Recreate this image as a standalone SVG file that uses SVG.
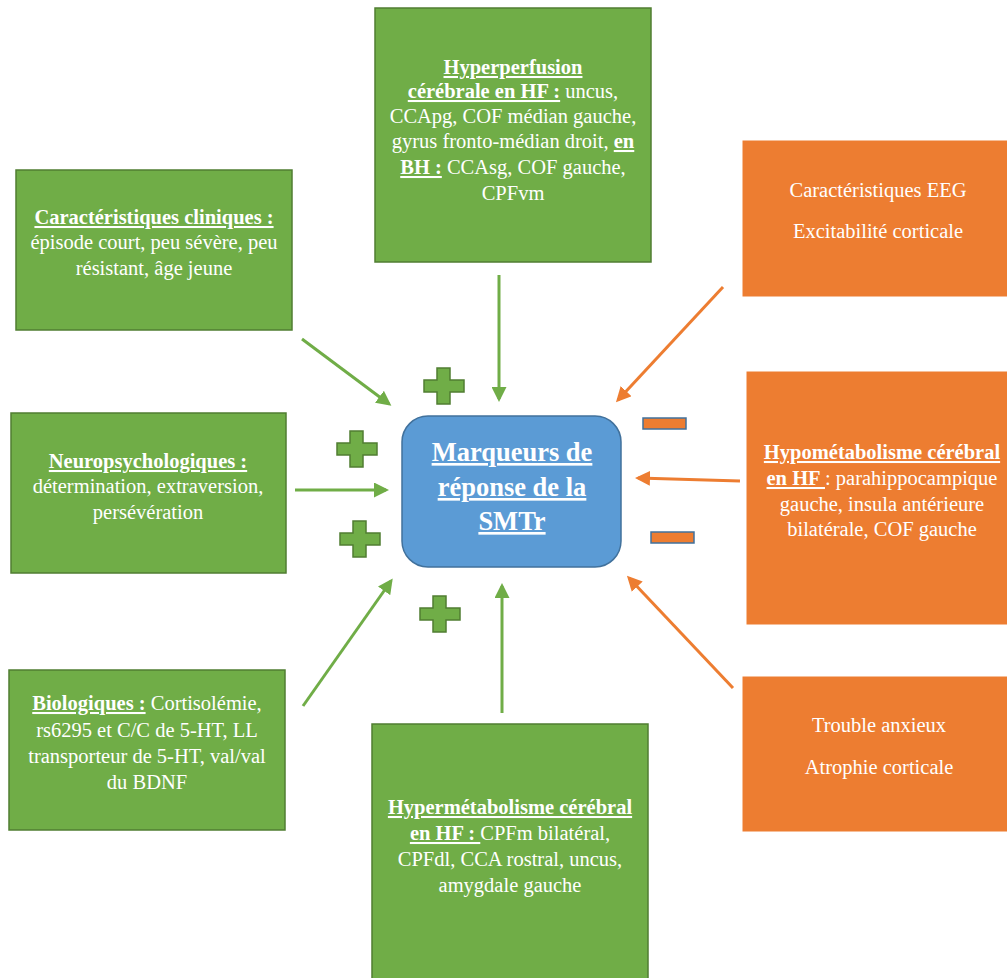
<svg xmlns="http://www.w3.org/2000/svg" width="1007" height="978" viewBox="0 0 1007 978">
<defs>
<style>
.g{fill:#70AD47;stroke:#507E32;stroke-width:1.5}
.o{fill:#ED7D31;stroke:#ffffff;stroke-width:1}
.t{font-family:"Liberation Serif","Times New Roman",serif;font-size:20.5px;fill:#ffffff;text-anchor:middle}
.b{font-weight:bold;text-decoration:underline}
.ga{stroke:#70AD47;stroke-width:3;fill:none;marker-end:url(#ag)}
.oa{stroke:#ED7D31;stroke-width:3;fill:none;marker-end:url(#ao)}
.plus{fill:#70AD47;stroke:#507E32;stroke-width:1.5}
.minus{fill:#ED7D31;stroke:#41719C;stroke-width:1.5}
</style>
<marker id="ag" markerWidth="5" markerHeight="5" refX="4" refY="2.5" orient="auto" markerUnits="strokeWidth"><path d="M0,0 L5,2.5 L0,5 Z" fill="#70AD47"/></marker>
<marker id="ao" markerWidth="5" markerHeight="5" refX="4" refY="2.5" orient="auto" markerUnits="strokeWidth"><path d="M0,0 L5,2.5 L0,5 Z" fill="#ED7D31"/></marker>
</defs>
<rect width="1007" height="978" fill="#ffffff"/>

<g id="connectors">
<line class="ga" x1="302" y1="339" x2="389" y2="404"/>
<line class="ga" x1="499" y1="275" x2="499" y2="399"/>
<line class="ga" x1="295" y1="490" x2="386" y2="490"/>
<line class="ga" x1="303" y1="706" x2="391" y2="581"/>
<line class="ga" x1="502" y1="713" x2="502" y2="586"/>
<line class="oa" x1="723" y1="287" x2="618" y2="400"/>
<line class="oa" x1="740" y1="481" x2="638" y2="478"/>
<line class="oa" x1="733" y1="688" x2="629" y2="578"/>
</g>

<g id="signs">
<path class="plus" d="M437,368 h13 v12 h14 v12 h-14 v12 h-13 v-12 h-13 v-12 h13 z"/>
<path class="plus" d="M350,431 h13 v12 h14 v12 h-14 v12 h-13 v-12 h-13 v-12 h13 z"/>
<path class="plus" d="M353,521 h13 v12 h14 v12 h-14 v12 h-13 v-12 h-13 v-12 h13 z"/>
<path class="plus" d="M433,596 h13 v12 h14 v12 h-14 v12 h-13 v-12 h-13 v-12 h13 z"/>
<rect class="minus" x="643" y="418" width="43" height="11"/>
<rect class="minus" x="651" y="532" width="43" height="11"/>
</g>

<g id="center">
<rect x="402" y="416" width="219" height="151" rx="26" ry="26" fill="#5B9BD5" stroke="#41719C" stroke-width="1.5"/>
<text class="t" style="font-size:26.5px" x="512" y="461"><tspan class="b">Marqueurs de</tspan></text>
<text class="t" style="font-size:26.5px" x="512" y="496"><tspan class="b">réponse de la</tspan></text>
<text class="t" style="font-size:26.5px" x="512" y="530"><tspan class="b">SMTr</tspan></text>
</g>

<g id="hyperperfusion">
<rect class="g" x="375" y="8" width="276" height="254"/>
<text class="t" x="513" y="74"><tspan class="b">Hyperperfusion</tspan></text>
<text class="t" x="513" y="98"><tspan class="b">cérébrale en HF :</tspan> uncus,</text>
<text class="t" x="513" y="123">CCApg, COF médian gauche,</text>
<text class="t" x="513" y="148">gyrus fronto-médian droit, <tspan class="b">en</tspan></text>
<text class="t" x="513" y="174"><tspan class="b">BH :</tspan> CCAsg, COF gauche,</text>
<text class="t" x="513" y="200">CPFvm</text>
</g>

<g id="clinique">
<rect class="g" x="16" y="170" width="276" height="160"/>
<text class="t" x="154" y="224"><tspan class="b">Caractéristiques cliniques :</tspan></text>
<text class="t" x="154" y="249">épisode court, peu sévère, peu</text>
<text class="t" x="154" y="275">résistant, âge jeune</text>
</g>

<g id="neuro">
<rect class="g" x="11" y="413" width="275" height="160"/>
<text class="t" x="148" y="468"><tspan class="b">Neuropsychologiques :</tspan></text>
<text class="t" x="148" y="493">détermination, extraversion,</text>
<text class="t" x="148" y="519">persévération</text>
</g>

<g id="bio">
<rect class="g" x="9" y="670" width="276" height="160"/>
<text class="t" x="147" y="710"><tspan class="b">Biologiques :</tspan> Cortisolémie,</text>
<text class="t" x="147" y="737">rs6295 et C/C de 5-HT, LL</text>
<text class="t" x="147" y="763">transporteur de 5-HT, val/val</text>
<text class="t" x="147" y="789">du BDNF</text>
</g>

<g id="hypermetabolisme">
<rect class="g" x="372" y="724" width="276" height="260"/>
<text class="t" x="510" y="814"><tspan class="b">Hypermétabolisme cérébral</tspan></text>
<text class="t" x="510" y="840"><tspan class="b">en HF : </tspan>CPFm bilatéral,</text>
<text class="t" x="510" y="866">CPFdl, CCA rostral, uncus,</text>
<text class="t" x="510" y="892">amygdale gauche</text>
</g>

<g id="eeg">
<rect class="o" x="742" y="140" width="270" height="157"/>
<text class="t" x="878" y="197">Caractéristiques EEG</text>
<text class="t" x="878" y="238">Excitabilité corticale</text>
</g>

<g id="hypometabolisme">
<rect class="o" x="746" y="371" width="266" height="254"/>
<text class="t" x="882" y="459"><tspan class="b">Hypométabolisme cérébral</tspan></text>
<text class="t" x="882" y="485"><tspan class="b">en HF </tspan>: parahippocampique</text>
<text class="t" x="882" y="511">gauche, insula antérieure</text>
<text class="t" x="882" y="536">bilatérale, COF gauche</text>
</g>

<g id="trouble">
<rect class="o" x="742" y="676" width="270" height="156"/>
<text class="t" x="879" y="732">Trouble anxieux</text>
<text class="t" x="879" y="774">Atrophie corticale</text>
</g>
</svg>
